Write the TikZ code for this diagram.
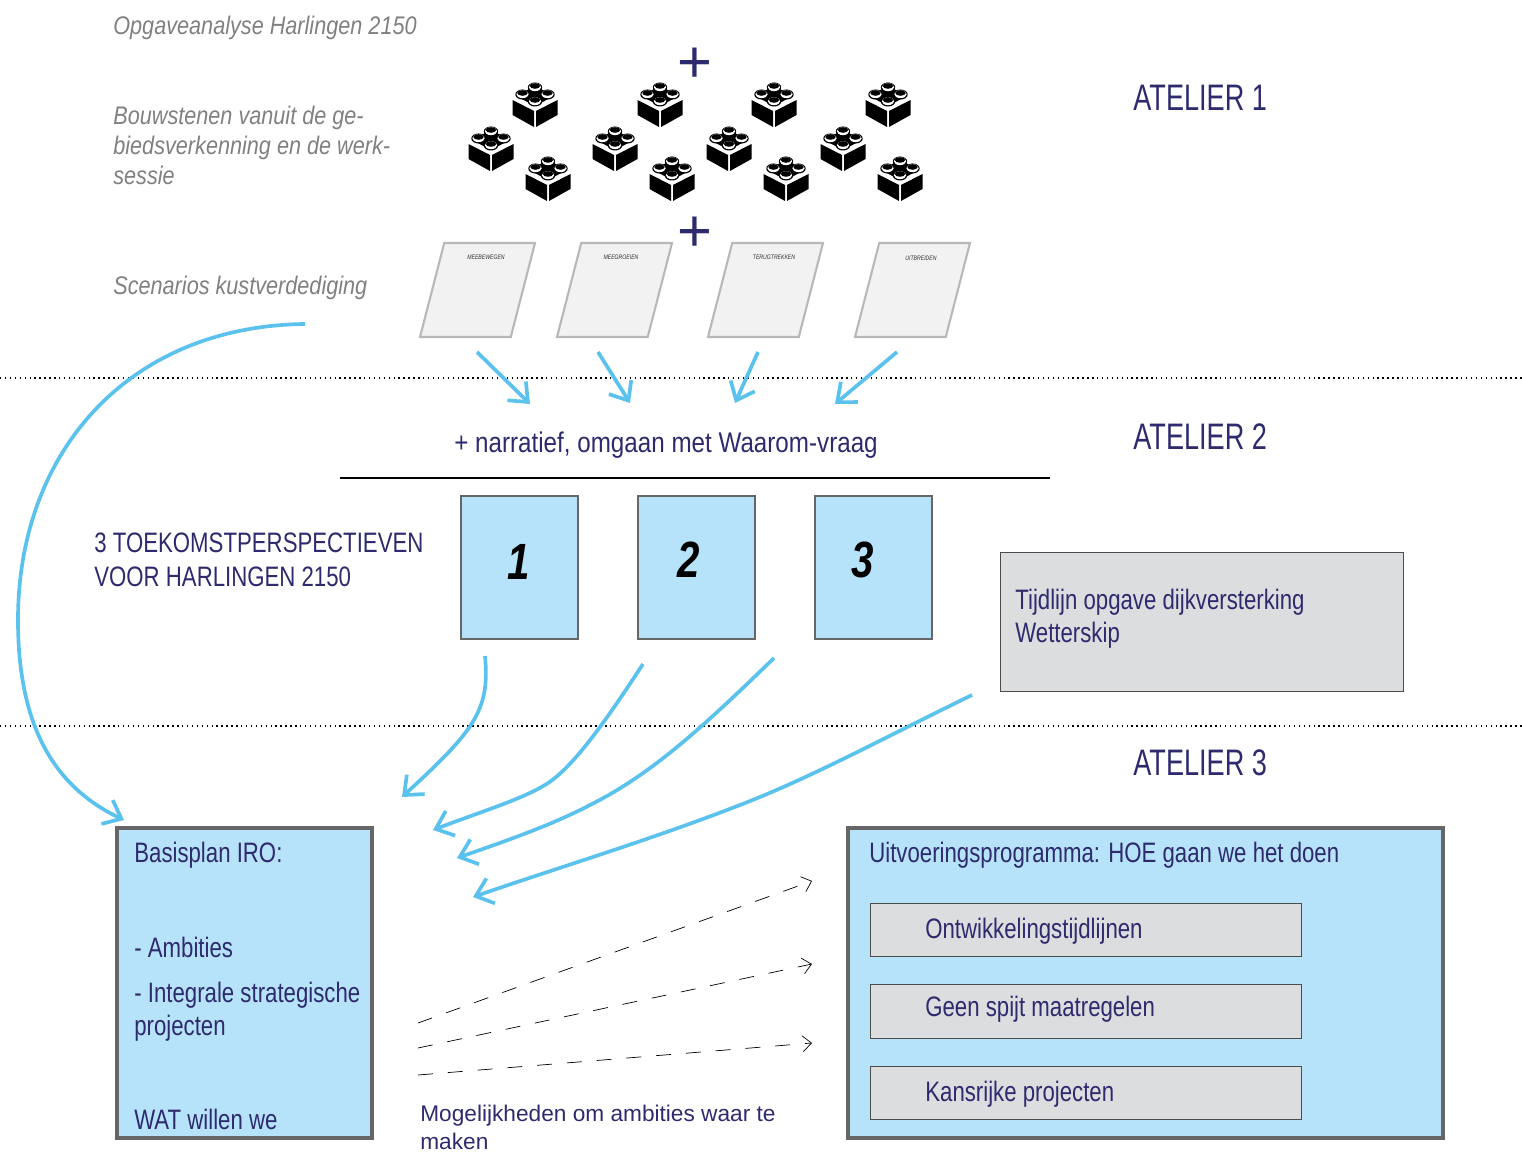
\documentclass[tikz,border=0pt]{standalone}
\usepackage{fontspec}
\setmainfont{Liberation Sans}
\newfontfamily\condfont[FakeStretch=0.79]{Liberation Sans}
\newfontfamily\atelierfont[FakeStretch=0.735]{Liberation Sans}
\newfontfamily\greyfont[FakeStretch=0.85]{Liberation Sans}
\usetikzlibrary{shapes.geometric, arrows.meta, positioning}
\definecolor{navy}{HTML}{2E2A6E}
\definecolor{lightblue}{HTML}{B6E3FA}
\definecolor{skyline}{HTML}{5BC2EE}
\definecolor{panelgrey}{HTML}{DCDDDE}
\tikzstyle{perspective} = [rectangle, minimum width=2.34cm, minimum height=2.86cm, draw=black!60, line width=0.7pt, fill=lightblue]
\tikzstyle{numeral} = [font=\condfont\bfseries\itshape\fontsize{29}{29}\selectfont]
\tikzstyle{mainbox} = [rectangle, draw=black!60, line width=1.85pt, fill=lightblue, minimum height=6.2cm]
\tikzstyle{itembox} = [rectangle, minimum width=8.62cm, minimum height=1.07cm, draw=black!70, line width=0.5pt, fill=panelgrey]
\tikzstyle{scenario} = [trapezium, trapezium left angle=70, trapezium right angle=110, trapezium stretches=true, inner sep=1pt, minimum width=2.3cm, minimum height=1.88cm, draw=black!28, line width=1.2pt, fill=black!5]
\tikzstyle{scenariotext} = [font=\condfont\itshape\fontsize{3.7}{4}\selectfont, text=black!80]
\tikzstyle{greytext} = [anchor=west, align=left, inner sep=0pt, text=black!50, font=\greyfont\itshape\fontsize{14.5}{17.1}\selectfont]
\tikzstyle{navytext} = [anchor=west, align=left, inner sep=0pt, text=navy, font=\condfont\fontsize{16}{19}\selectfont]
\tikzstyle{atelier} = [anchor=west, inner sep=0pt, text=navy, font=\atelierfont\fontsize{21}{21}\selectfont]
\tikzstyle{plus} = [text=navy, font=\fontsize{34}{34}\selectfont]
\tikzstyle{arrow} = [line width=2.1pt, skyline, -{Straight Barb[length=9pt,width=15pt,line width=2.1pt]}]
\tikzstyle{dasharrow} = [line width=0.4pt, dash pattern=on 8.5pt off 8.5pt, -{Straight Barb[length=5pt,width=9pt]}]
\tikzstyle{divider} = [line width=0.8pt, dotted]
\tikzset{brick/.pic={
    \fill[black] (-22.5,2) -- (-1,13) -- (-1,29) -- (-22.5,17) -- cycle;
    \fill[black] (22.5,2) -- (1,13) -- (1,29) -- (22.5,17) -- cycle;
    \fill[black] (-19,-2) -- (0,-12) -- (19,-2) -- (0,8) -- cycle;
    \foreach \sx/\sy in {0/-12,-12.5/-5,12.5/-5,0/2} {
        \fill[black] (\sx,\sy+1.5) ellipse (7.2 and 5);
        \fill[white] (\sx,\sy+1.2) ellipse (6.2 and 3.9);
        \fill[black] (\sx,\sy) ellipse (5.2 and 2.8);
    }
}}

\begin{document}
\begin{tikzpicture}[x=0.02cm, y=-0.02cm]
    \useasboundingbox (0,0) rectangle (1522,1152);

    \draw [divider] (0,378) -- (1522,378);
    \draw [divider] (0,726) -- (1522,726);

    % left column
    \node (opgave) [greytext] at (113,28) {Opgaveanalyse Harlingen 2150};
    \node (bouwstenen) [greytext] at (113,145) {Bouwstenen vanuit de ge-\\biedsverkenning en de werk-\\sessie};
    \node (scenarios) [greytext] at (113,288) {Scenarios kustverdediging};

    \node (atelier1) [atelier] at (1133,98) {ATELIER 1};
    \node (atelier2) [atelier] at (1133,437) {ATELIER 2};
    \node (atelier3) [atelier] at (1133,763) {ATELIER 3};

    \node (plus1) [plus] at (695,65) {+};
    \node (plus2) [plus] at (695,234) {+};

    % bricks
    \foreach \bx/\by in {535/98,660/98,774/98,888/98,491/142,615/142,729/142,843/142,548/172,672/172,786/172,900/172}
        \pic at (\bx,\by) {brick};

    \node (meebewegen) [scenario] at (477.5,290) {};
    \node (meegroeien) [scenario] at (614.5,290) {};
    \node (terugtrekken) [scenario] at (765.5,290) {};
    \node (uitbreiden) [scenario] at (912.5,290) {};
    \node [scenariotext] at (486,257) {MEEBEWEGEN};
    \node [scenariotext] at (621,257) {MEEGROEIEN};
    \node [scenariotext] at (774,257) {TERUGTREKKEN};
    \node [scenariotext] at (921,258) {UITBREIDEN};

    \coordinate (a1) at (477,352);
    \coordinate (a2) at (598,352);
    \coordinate (a3) at (758,352);
    \coordinate (a4) at (897,352);
    \coordinate (b1) at (530,404);
    \coordinate (b2) at (630,403);
    \coordinate (b3) at (735,403);
    \coordinate (b4) at (835,404);
    \draw [arrow] (a1) -- (b1);
    \draw [arrow] (a2) -- (b2);
    \draw [arrow] (a3) -- (b3);
    \draw [arrow] (a4) -- (b4);

    \node (narratief) [navytext, font=\greyfont\fontsize{16.2}{19}\selectfont] at (454,445) {+ narratief, omgaan met Waarom-vraag};
    \coordinate (ruleleft) at (340,478);
    \coordinate (ruleright) at (1050,478);
    \draw [line width=0.7pt] (ruleleft) -- (ruleright);

    \node (toekomst) [navytext] at (94,560) {3 TOEKOMSTPERSPECTIEVEN\\VOOR HARLINGEN 2150};
    \node (persp1) [perspective] at (519.5,567.5) {};
    \node (persp2) [perspective] at (696.5,567.5) {};
    \node (persp3) [perspective] at (873.5,567.5) {};
    \node [numeral] at (519,562) {1};
    \node [numeral] at (689,560) {2};
    \node [numeral] at (863,560) {3};

    \node (tijdlijn) [rectangle, draw=black!70, line width=0.5pt, fill=panelgrey, minimum width=8.06cm, minimum height=2.78cm] at (1201.5,621.5) {};
    \node [navytext] at (1015,618.5) {Tijdlijn opgave dijkversterking\\Wetterskip};

    % atelier 3
    \node (basisplan) [mainbox, minimum width=5.1cm] at (244.5,983) {};
    \node (uitvoering) [mainbox, minimum width=11.9cm] at (1145.5,983) {};
    \node [navytext] at (134,855) {Basisplan IRO:};
    \node [navytext] at (134,947) {- Ambities};
    \node [navytext] at (134,1012) {- Integrale strategische\\projecten};
    \node [navytext] at (134,1119) {WAT willen we};
    \node [navytext] at (869,855) {Uitvoeringsprogramma: HOE gaan we het doen};
    \node (item1) [itembox] at (1085.5,930) {};
    \node (item2) [itembox] at (1085.5,1011.5) {};
    \node (item3) [itembox] at (1085.5,1093) {};
    \node [navytext] at (925,931) {Ontwikkelingstijdlijnen};
    \node [navytext] at (925,1009) {Geen spijt maatregelen};
    \node [navytext] at (925,1094) {Kansrijke projecten};
    \node (mogelijk) [anchor=west, align=left, inner sep=0pt, text=navy, font=\fontsize{12.9}{15.8}\selectfont] at (420,1127.5) {Mogelijkheden om ambities waar te\\maken};

    % blue connectors
    \coordinate (start0) at (305,324);
    \coordinate (start1) at (485,656);
    \coordinate (start2) at (643,664);
    \coordinate (start3) at (774,658);
    \coordinate (start4) at (972,695);
    \coordinate (end0) at (124,820);
    \coordinate (end1) at (402,797);
    \coordinate (end2) at (433,830);
    \coordinate (end3) at (457,858);
    \coordinate (end4) at (473,897);
    \draw [arrow] (start0) .. controls (130,326) and (18,450) .. (18,620) .. controls (18,720) and (50,785) .. (end0);
    \draw [arrow] (start1) .. controls (490,710) and (475,730) .. (end1);
    \draw [arrow] (start2) .. controls (600,730) and (570,770) .. (545,785) .. controls (520,800) and (480,812) .. (end2);
    \draw [arrow] (start3) .. controls (700,730) and (650,775) .. (590,805) .. controls (550,826) and (500,843) .. (end3);
    \draw [arrow] (start4) .. controls (880,740) and (810,778) .. (740,805) .. controls (650,840) and (560,867) .. (end4);

    % dashed arrows
    \coordinate (d1) at (418,1023);
    \coordinate (d2) at (418,1048);
    \coordinate (d3) at (418,1075);
    \coordinate (e1) at (812,881);
    \coordinate (e2) at (812,964);
    \coordinate (e3) at (812,1043);
    \draw [dasharrow] (d1) -- (e1);
    \draw [dasharrow] (d2) -- (e2);
    \draw [dasharrow] (d3) -- (e3);
\end{tikzpicture}
\end{document}
